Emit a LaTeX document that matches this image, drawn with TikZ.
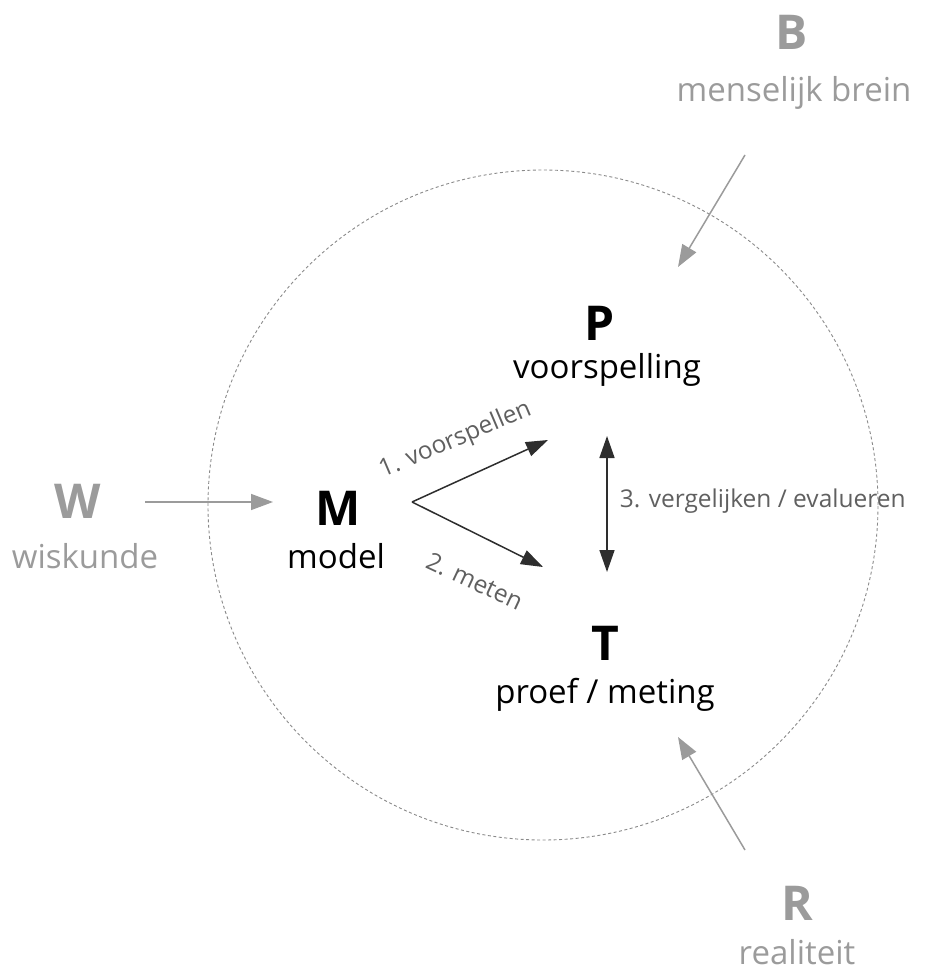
\documentclass[tikz,border=0pt]{standalone}
\usepackage{fontspec}
\setmainfont{Open Sans}
\usetikzlibrary{arrows.meta}
\definecolor{outgrey}{HTML}{9B9B9B}
\definecolor{stepgrey}{HTML}{606060}
\definecolor{flowdark}{HTML}{2E2E2E}
\definecolor{ringgrey}{HTML}{8A8A8A}

\begin{document}
\begin{tikzpicture}[x=1pt,y=-1pt,
  letter/.style={font=\fontsize{48}{52}\selectfont\bfseries, inner sep=0pt, anchor=base},
  word/.style={font=\fontsize{33}{38}\selectfont, inner sep=0pt, anchor=base},
  steplabel/.style={font=\fontsize{24.5}{28}\selectfont, text=stepgrey, inner sep=0pt},
  feed/.style={draw=outgrey, line width=1.5pt, -{Triangle[length=22pt,width=16pt]}},
  flow/.style={draw=flowdark, line width=1.5pt, -{Triangle[length=22pt,width=15pt]}}]
\useasboundingbox (0,0) rectangle (927,973);

% dotted boundary
\node[circle, draw=ringgrey, line width=0.9pt, dash pattern=on 3pt off 2.5pt,
  minimum size=670pt, inner sep=0pt] (ring) at (543,505) {};

% inner nodes
\node[letter] (P) at (600,340) {P};
\node[word] (Pword) at (607,378) {voorspelling};
\node[letter] (M) at (338,525) {M};
\node[word] (Mword) at (336,568) {model};
\node[letter] (T) at (605,660) {T};
\node[word] (Tword) at (605,703) {proef / meting};

% outer nodes
\node[letter, text=outgrey] (W) at (78,518) {W};
\node[word, text=outgrey] (Wword) at (85,568) {wiskunde};
\node[letter, text=outgrey] (B) at (792,50) {B};
\node[word, text=outgrey] (Bword) at (794,102) {menselijk brein};
\node[letter, text=outgrey] (R) at (797,920) {R};
\node[word, text=outgrey] (Rword) at (797,964) {realiteit};

% arrow ends
\coordinate (wtail) at (145,502);
\coordinate (whead) at (273,502);
\coordinate (btail) at (745,155);
\coordinate (bhead) at (678,267);
\coordinate (rtail) at (745,850);
\coordinate (rhead) at (678,737);
\coordinate (fork) at (412,502);
\coordinate (phead) at (548,440);
\coordinate (thead) at (543,567);
\coordinate (cmptop) at (607,436);
\coordinate (cmpbot) at (607,572);

\draw[feed] (wtail) -- (whead);
\draw[feed] (btail) -- (bhead);
\draw[feed] (rtail) -- (rhead);

\draw[flow] (fork) -- (phead);
\draw[flow] (fork) -- (thead);
\draw[flow, {Triangle[length=22pt,width=15pt]}-{Triangle[length=22pt,width=15pt]}] (cmptop) -- (cmpbot)
  node[steplabel, midway, anchor=west, xshift=12pt, yshift=3pt] (cmp) {3. vergelijken / evalueren};

% step labels
\node[steplabel, rotate=23, anchor=base] (s1) at (458,446) {1. voorspellen};
\node[steplabel, rotate=-25, anchor=base] (s2) at (471,589) {2. meten};
\end{tikzpicture}
\end{document}
